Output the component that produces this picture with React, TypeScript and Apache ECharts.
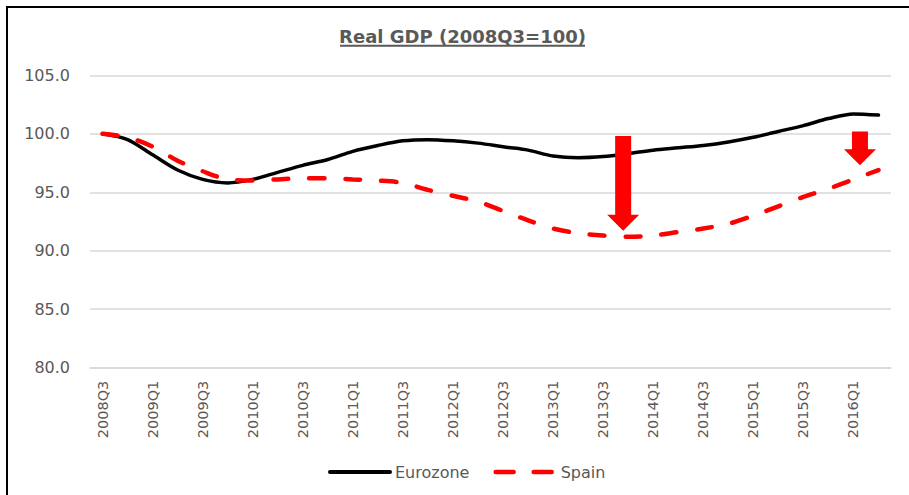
import React, { useEffect, useRef } from "react";
import * as echarts from "echarts";

// Quarterly real GDP index, 2008Q3 = 100
const quarters = [
  "2008Q3", "2008Q4",
  "2009Q1", "2009Q2", "2009Q3", "2009Q4",
  "2010Q1", "2010Q2", "2010Q3", "2010Q4",
  "2011Q1", "2011Q2", "2011Q3", "2011Q4",
  "2012Q1", "2012Q2", "2012Q3", "2012Q4",
  "2013Q1", "2013Q2", "2013Q3", "2013Q4",
  "2014Q1", "2014Q2", "2014Q3", "2014Q4",
  "2015Q1", "2015Q2", "2015Q3", "2015Q4",
  "2016Q1", "2016Q2",
];

const eurozone = [
  100.0, 99.5, 98.2, 96.9, 96.1, 95.8, 96.1, 96.7,
  97.3, 97.8, 98.5, 99.0, 99.4, 99.5, 99.4, 99.2,
  98.9, 98.6, 98.1, 97.95, 98.05, 98.3, 98.6, 98.8,
  99.0, 99.3, 99.7, 100.2, 100.7, 101.3, 101.7, 101.6,
];

const spain = [
  100.0, 99.7, 98.9, 97.7, 96.8, 96.1, 96.0, 96.1,
  96.2, 96.2, 96.1, 96.0, 95.8, 95.2, 94.7, 94.2,
  93.4, 92.6, 91.9, 91.5, 91.3, 91.2, 91.3, 91.6,
  91.9, 92.3, 93.0, 93.8, 94.6, 95.3, 96.1, 96.9,
];

// Downward arrows: position on the quarter axis and the index values they span
const arrowAt = [20.8, 30.26];
const arrowFrom = [99.8, 100.2];
const arrowTo = [91.7, 97.3];

const GREY = "#595959";

export default function App() {
  const ref = useRef<HTMLDivElement>(null);

  useEffect(() => {
    if (!ref.current) return;
    const chart = echarts.init(ref.current, undefined, { renderer: "svg" });

    chart.setOption({
      animation: false,
      backgroundColor: "#ffffff",
      grid: { left: 82, right: 18, top: 67.3, bottom: 127.3 },
      legend: {
        left: 315,
        top: 451,
        itemWidth: 60,
        itemHeight: 20,
        itemGap: 24,
        itemStyle: { opacity: 0 },
        textStyle: { color: GREY, fontFamily: "DejaVu Sans", fontSize: 16 },
        data: [
          {
            name: "Eurozone",
            lineStyle: { color: "#000000", width: 4, cap: "round", type: "solid" },
          },
          {
            name: "Spain",
            lineStyle: { color: "#ff0000", width: 4.5, cap: "round", type: [18, 20] },
          },
        ],
      },
      xAxis: {
        type: "category",
        data: quarters,
        boundaryGap: true,
        axisLine: { show: true, lineStyle: { color: "#d9d9d9", width: 1.5 } },
        axisTick: { show: false },
        axisLabel: {
          interval: 1,
          rotate: 90,
          margin: 13,
          color: GREY,
          fontFamily: "DejaVu Sans",
          fontSize: 14.5,
        },
        splitLine: { show: false },
      },
      yAxis: {
        type: "value",
        min: 80,
        max: 105,
        interval: 5,
        axisLine: { show: false },
        axisTick: { show: false },
        axisLabel: {
          margin: 20,
          color: GREY,
          fontFamily: "DejaVu Sans",
          fontSize: 16,
          formatter: (v: number) => v.toFixed(1),
        },
        splitLine: { lineStyle: { color: "#d9d9d9", width: 1.5 } },
      },
      series: [
        {
          name: "Eurozone",
          type: "line",
          data: eurozone,
          smooth: 0.3,
          symbol: "none",
          lineStyle: { color: "#000000", width: 3.5, cap: "round" },
          itemStyle: { color: "#000000" },
          z: 2,
        },
        {
          name: "Spain",
          type: "line",
          data: spain,
          smooth: 0.3,
          symbol: "none",
          lineStyle: {
            color: "#ff0000",
            width: 4.5,
            type: [15, 21],
            cap: "round",
          },
          itemStyle: { color: "#ff0000" },
          z: 3,
        },
      ],
    });

    // Arrows placed through the chart's own coordinate system
    const toPx = (x: number, y: number) => {
      const i0 = Math.floor(x);
      const i1 = i0 + 1;
      const a = chart.convertToPixel({ xAxisIndex: 0, yAxisIndex: 0 }, [i0, y]) as number[];
      const b = chart.convertToPixel({ xAxisIndex: 0, yAxisIndex: 0 }, [i1, y]) as number[];
      return [a[0] + (b[0] - a[0]) * (x - i0), a[1]];
    };

    const shaftHalf = 8;
    const headHalf = 16;
    const headLen = 16;
    const arrows = arrowAt.map((x, k) => {
      const top = toPx(x, arrowFrom[k]);
      const tip = toPx(x, arrowTo[k]);
      const cx = top[0];
      const base = tip[1] - headLen;
      return {
        type: "polygon",
        shape: {
          points: [
            [cx - shaftHalf, top[1]],
            [cx + shaftHalf, top[1]],
            [cx + shaftHalf, base],
            [cx + headHalf, base],
            [cx, tip[1]],
            [cx - headHalf, base],
            [cx - shaftHalf, base],
          ],
        },
        style: { fill: "#ff0000" },
        z: 10,
      };
    });

    chart.setOption({
      graphic: [
        {
          type: "text",
          x: 454.5,
          y: 28.7,
          style: {
            text: "Real GDP (2008Q3=100)",
            fill: GREY,
            fontFamily: "DejaVu Sans",
            fontWeight: "bold",
            fontSize: 18,
            align: "center",
            verticalAlign: "middle",
          },
        },
        {
          type: "line",
          shape: { x1: 332, y1: 37.7, x2: 577, y2: 37.7 },
          style: { stroke: GREY, lineWidth: 2 },
        },
        ...arrows,
      ],
    });

    return () => chart.dispose();
  }, []);

  return (
    <div
      style={{
        position: "fixed",
        left: 6,
        top: 6,
        width: 903,
        height: 489,
        borderLeft: "2px solid #000",
        borderTop: "2px solid #000",
        boxSizing: "border-box",
        background: "#fff",
      }}
    >
      <div ref={ref} style={{ width: 901, height: 487 }} />
    </div>
  );
}
